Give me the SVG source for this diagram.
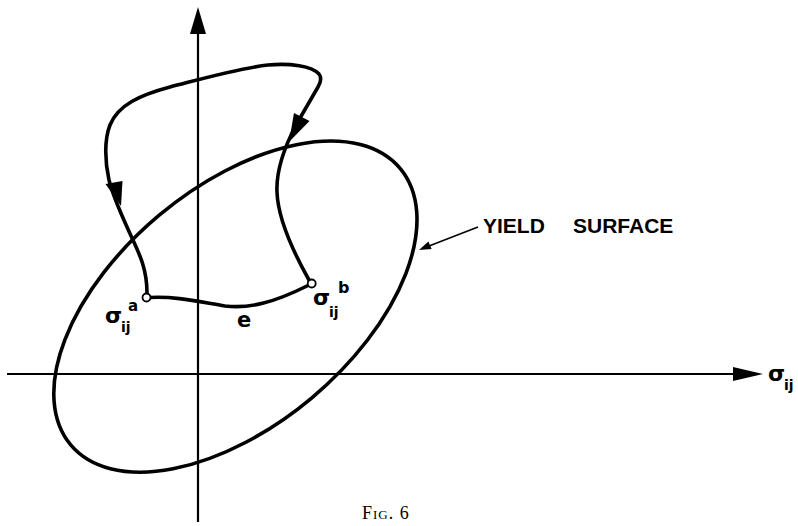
<svg xmlns="http://www.w3.org/2000/svg" width="798" height="526" viewBox="0 0 798 526">
<style>
.ax{stroke:#000;stroke-width:2.2;fill:none}
.cv{stroke:#000;stroke-width:3.6;fill:none;stroke-linecap:round;stroke-linejoin:round}
.hd{fill:#000;stroke:none}
.pt{fill:#fff;stroke:#000;stroke-width:1.8}
.lb{font-family:"DejaVu Sans",sans-serif;font-weight:bold;fill:#000}
.cap{font-family:"Liberation Serif",serif;fill:#000}
</style>
<rect width="798" height="526" fill="#fff"/>
<g id="axes">
<line class="ax" x1="198" y1="30" x2="198" y2="522"/>
<polygon class="hd" points="198,7 190,34 206,34"/>
<line class="ax" x1="7" y1="374" x2="738" y2="374"/>
<polygon class="hd" points="763,374 733,367 733,381"/>
</g>
<g id="yield-surface">
<ellipse class="cv" cx="235.4" cy="306.6" rx="215" ry="119" transform="rotate(-40 235.4 306.6)"/>
</g>
<g id="connectors">
<path class="cv" d="M147,293 C147,270 140,255 132,238 C124,220 114,200 109,180 C105,162 104,140 110,125 C118,105 140,95 170,87 C205,78 240,68 268,65 C290,63 312,66 319,74 C322,78 321,82 318,87 L296,125 C284,148 276,170 277,192 C278,220 295,255 309,280"/>
<polygon class="hd" points="121,206 122.5,181 105.5,184"/>
<polygon class="hd" points="289,142 309.5,121 294,113"/>
<path class="cv" d="M150,297.5 C175,296 200,302 225,306 C250,309 275,302 308,285.5"/>
<line stroke="#000" stroke-width="1.6" x1="478" y1="227" x2="429" y2="246"/>
<polygon class="hd" points="419,250 431.6,249 428.4,241.6"/>
</g>
<g id="point-a">
<circle class="pt" cx="146.5" cy="297.5" r="4"/>
<text class="lb" x="105" y="323" font-size="22">σ</text>
<text class="lb" x="121" y="332" font-size="14">ij</text>
<text class="lb" x="128" y="311" font-size="15">a</text>
</g>
<g id="point-b">
<circle class="pt" cx="311.7" cy="283.5" r="4"/>
<text class="lb" x="313" y="305" font-size="22">σ</text>
<text class="lb" x="329" y="317" font-size="14">ij</text>
<text class="lb" x="338" y="293" font-size="16">b</text>
</g>
<g id="labels">
<text class="lb" x="237" y="327" font-size="21">e</text>
<text class="lb" x="768" y="381" font-size="22">σ</text>
<text class="lb" x="784" y="390" font-size="14">ij</text>
<text font-family="Liberation Sans, sans-serif" font-weight="bold" font-size="21" fill="#000"><tspan x="483" y="233">YIELD</tspan><tspan x="573" y="233">SURFACE</tspan></text>
<text class="cap" x="362" y="519" font-size="18" letter-spacing="1" font-variant="small-caps">Fig. 6</text>
</g>
</svg>
